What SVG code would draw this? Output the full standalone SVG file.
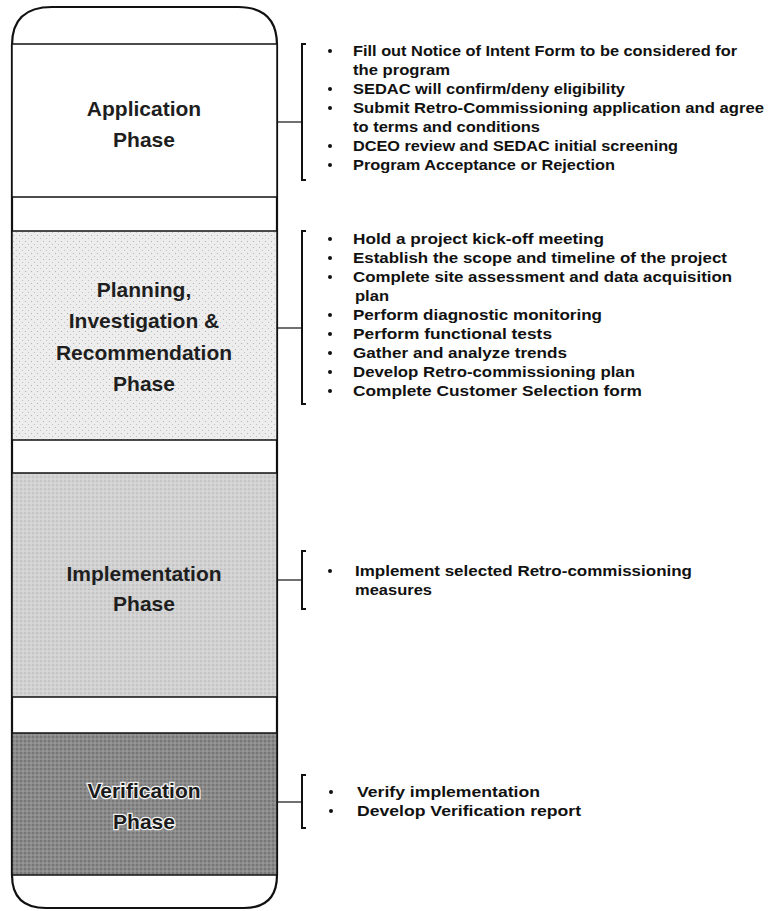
<svg xmlns="http://www.w3.org/2000/svg" width="769" height="911" viewBox="0 0 769 911">
<defs>
<style>
.lbl{font-family:"Liberation Sans",Arial,sans-serif;font-weight:bold;font-size:21px;fill:#1e1e1e;text-anchor:middle}
.lblv{font-family:"Liberation Sans",Arial,sans-serif;font-weight:bold;font-size:21px;fill:#1a1a1a;text-anchor:middle;stroke:#f2f2f2;stroke-width:2.5;paint-order:stroke}
.it{font-family:"Liberation Sans",Arial,sans-serif;font-weight:bold;font-size:15px;fill:#111}
.bul{fill:#111}
.box{stroke:#111;stroke-width:1.5}
.br{fill:none;stroke:#111;stroke-width:2}
.cn{fill:none;stroke:#111;stroke-width:1.2}
</style>
<pattern id="dots1" width="6" height="6" patternUnits="userSpaceOnUse">
<rect width="6" height="6" fill="#ededed"/>
<circle cx="1.5" cy="1.5" r="0.6" fill="#aaa"/>
<circle cx="4.5" cy="4.5" r="0.6" fill="#bbb"/>
</pattern>
<pattern id="dots2" width="4" height="4" patternUnits="userSpaceOnUse">
<rect width="4" height="4" fill="#d2d2d2"/>
<circle cx="1" cy="1" r="0.6" fill="#999"/>
<circle cx="3" cy="3" r="0.5" fill="#eee"/>
</pattern>
<pattern id="dots3" width="4" height="4" patternUnits="userSpaceOnUse">
<rect width="4" height="4" fill="#8a8a8a"/>
<circle cx="1" cy="1" r="0.7" fill="#555"/>
<circle cx="3" cy="3" r="0.6" fill="#bdbdbd"/>
</pattern>
</defs>
<rect width="769" height="911" fill="#fff"/>

<g id="container">
<path d="M12,45 Q12,7 52,7 L238,7 Q277,7 277,45 L277,875 Q277,908 244,908 L46,908 Q12,908 12,875 Z" fill="#fff" stroke="#111" stroke-width="2.2"/>
</g>

<g id="application">
<rect class="box" x="12" y="44" width="265" height="153" fill="#fff"/>
<text class="lbl" x="144" y="116">Application</text>
<text class="lbl" x="144" y="147">Phase</text>
</g>

<g id="planning">
<rect class="box" x="12" y="231" width="265" height="209" fill="url(#dots1)"/>
<text class="lbl" x="144" y="297">Planning,</text>
<text class="lbl" x="144" y="328">Investigation &amp;</text>
<text class="lbl" x="144" y="360">Recommendation</text>
<text class="lbl" x="144" y="391">Phase</text>
</g>

<g id="implementation">
<rect class="box" x="12" y="473" width="265" height="224" fill="url(#dots2)"/>
<text class="lbl" x="144" y="581">Implementation</text>
<text class="lbl" x="144" y="611">Phase</text>
</g>

<g id="verification">
<rect class="box" x="12" y="733" width="265" height="142" fill="url(#dots3)"/>
<text class="lblv" x="144" y="798">Verification</text>
<text class="lblv" x="144" y="829">Phase</text>
</g>

<g id="connectors">
<path class="cn" d="M277,122 H302"/>
<path class="br" d="M306,44 H302 V180 H306"/>
<path class="cn" d="M277,328 H302"/>
<path class="br" d="M306,231 H302 V404 H306"/>
<path class="cn" d="M277,580 H302"/>
<path class="br" d="M306,551 H302 V609 H306"/>
<path class="cn" d="M277,802 H302"/>
<path class="br" d="M306,775 H302 V828 H306"/>
</g>

<g id="application-notes">
<circle class="bul" cx="330" cy="51" r="2"/>
<text class="it" x="353" y="56" textLength="384" lengthAdjust="spacingAndGlyphs">Fill out Notice of Intent Form to be considered for</text>
<text class="it" x="353" y="75" textLength="97" lengthAdjust="spacingAndGlyphs">the program</text>
<circle class="bul" cx="330" cy="89" r="2"/>
<text class="it" x="353" y="94" textLength="272" lengthAdjust="spacingAndGlyphs">SEDAC will confirm/deny eligibility</text>
<circle class="bul" cx="330" cy="108" r="2"/>
<text class="it" x="353" y="113" textLength="411" lengthAdjust="spacingAndGlyphs">Submit Retro-Commissioning application and agree</text>
<text class="it" x="353" y="132" textLength="187" lengthAdjust="spacingAndGlyphs">to terms and conditions</text>
<circle class="bul" cx="330" cy="146" r="2"/>
<text class="it" x="353" y="151" textLength="325" lengthAdjust="spacingAndGlyphs">DCEO review and SEDAC initial screening</text>
<circle class="bul" cx="330" cy="165" r="2"/>
<text class="it" x="353" y="170" textLength="262" lengthAdjust="spacingAndGlyphs">Program Acceptance or Rejection</text>
</g>

<g id="planning-notes">
<circle class="bul" cx="330" cy="239" r="2"/>
<text class="it" x="353" y="244" textLength="251" lengthAdjust="spacingAndGlyphs">Hold a project kick-off meeting</text>
<circle class="bul" cx="330" cy="258" r="2"/>
<text class="it" x="353" y="263" textLength="374" lengthAdjust="spacingAndGlyphs">Establish the scope and timeline of the project</text>
<circle class="bul" cx="330" cy="277" r="2"/>
<text class="it" x="353" y="282" textLength="379" lengthAdjust="spacingAndGlyphs">Complete site assessment and data acquisition</text>
<text class="it" x="355" y="301" textLength="34" lengthAdjust="spacingAndGlyphs">plan</text>
<circle class="bul" cx="330" cy="315" r="2"/>
<text class="it" x="353" y="320" textLength="249" lengthAdjust="spacingAndGlyphs">Perform diagnostic monitoring</text>
<circle class="bul" cx="330" cy="334" r="2"/>
<text class="it" x="353" y="339" textLength="199" lengthAdjust="spacingAndGlyphs">Perform functional tests</text>
<circle class="bul" cx="330" cy="353" r="2"/>
<text class="it" x="353" y="358" textLength="214" lengthAdjust="spacingAndGlyphs">Gather and analyze trends</text>
<circle class="bul" cx="330" cy="372" r="2"/>
<text class="it" x="353" y="377" textLength="282" lengthAdjust="spacingAndGlyphs">Develop Retro-commissioning plan</text>
<circle class="bul" cx="330" cy="391" r="2"/>
<text class="it" x="353" y="396" textLength="289" lengthAdjust="spacingAndGlyphs">Complete Customer Selection form</text>
</g>

<g id="implementation-notes">
<circle class="bul" cx="330" cy="571" r="2"/>
<text class="it" x="355" y="576" textLength="337" lengthAdjust="spacingAndGlyphs">Implement  selected Retro-commissioning</text>
<text class="it" x="355" y="595" textLength="77" lengthAdjust="spacingAndGlyphs">measures</text>
</g>

<g id="verification-notes">
<circle class="bul" cx="331" cy="792" r="2"/>
<text class="it" x="357" y="797" textLength="183" lengthAdjust="spacingAndGlyphs">Verify implementation</text>
<circle class="bul" cx="331" cy="811" r="2"/>
<text class="it" x="357" y="816" textLength="224" lengthAdjust="spacingAndGlyphs">Develop Verification report</text>
</g>
</svg>
